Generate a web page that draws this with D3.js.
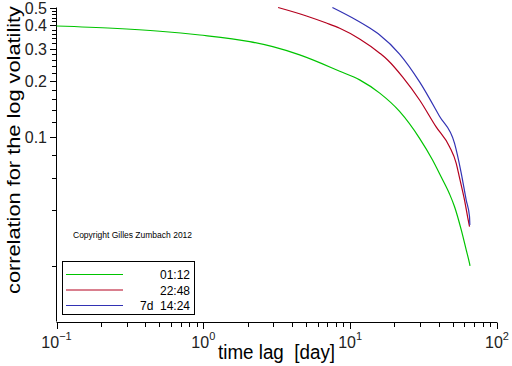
<!DOCTYPE html>
<html><head><meta charset="utf-8">
<script src="https://cdn.jsdelivr.net/npm/d3@7"></script>
<style>body{margin:0;background:#fff}svg{display:block}text{font-family:"Liberation Sans",Arial,sans-serif}</style>
</head><body><svg id="c" width="512" height="366"></svg>
<script>
// Data (time lag in days, correlation)
const greenLag  = [0.1, 0.242, 0.506, 0.947, 2.07, 2.97, 4.53, 8.49, 11.6, 15.9, 21.7, 29.7, 36.4, 41.7, 47.5, 51.4, 57.1, 61.7, 65.0, 65.5];
const greenCorr = [0.397, 0.386, 0.372, 0.355, 0.327, 0.307, 0.277, 0.226, 0.203, 0.172, 0.137, 0.098, 0.0748, 0.0605, 0.0490, 0.0418, 0.0313, 0.0244, 0.0206, 0.0200];
const redLag  = [3.23, 5.04, 6.89, 8.49, 11.6, 15.9, 18.0, 22.8, 29.7, 38.5, 47.5, 52.7, 55.6, 60.1, 63.3, 65.0];
const redCorr = [0.5, 0.450, 0.412, 0.386, 0.338, 0.283, 0.260, 0.210, 0.158, 0.113, 0.0883, 0.0720, 0.0598, 0.0454, 0.0363, 0.0326];
const blueLag  = [7.57, 11.0, 13.6, 15.9, 21.7, 29.7, 40.6, 51.4, 57.1, 61.7, 65.0, 65.3];
const blueCorr = [0.5, 0.428, 0.387, 0.355, 0.280, 0.198, 0.129, 0.092, 0.0634, 0.0454, 0.0369, 0.0333];
const seriesNames = ["01:12", "22:48", "7d  14:24"];
const seriesColors = ["#00c400", "#b4001e", "#3232b4"];
const xDecades = [-1, 0, 1, 2];
const yLabels = [0.1, 0.2, 0.3, 0.4, 0.5];

const svg = d3.select("#c");
const x = d3.scaleLog().domain([0.1, 100]).range([56.5, 497]);
const y = d3.scaleLog().domain([0.01, 0.5]).range([321.5, 7.5]);

// axes lines
svg.append("line").attr("x1", 56.5).attr("x2", 56.5).attr("y1", y(0.5)).attr("y2", y(0.01)).attr("stroke", "#000");
svg.append("line").attr("x1", x(0.1)).attr("x2", x(100)).attr("y1", 322.5).attr("y2", 322.5).attr("stroke", "#000");

// x ticks
const xTicks = [];
xDecades.forEach(d => { for (let k = 1; k <= 9; k++) { const v = k * Math.pow(10, d); if (v <= 100.0001) xTicks.push({v, major: k === 1}); } });
svg.selectAll(".xt").data(xTicks).enter().append("line")
  .attr("x1", d => Math.round(x(d.v)) + 0.5).attr("x2", d => Math.round(x(d.v)) + 0.5)
  .attr("y1", 322.5).attr("y2", d => d.major ? 329 : 327).attr("stroke", "#000");
xDecades.forEach(d => {
  const t = svg.append("text").attr("x", x(Math.pow(10, d))).attr("y", 348)
    .attr("text-anchor", "middle").attr("font-size", 16).attr("fill", "#222");
  t.append("tspan").text("10");
  t.append("tspan").attr("dy", -8).attr("font-size", 11).text(d < 0 ? "\u2212" + (-d) : String(d));
});

// y ticks
const yTicks = [];
for (let k = 1; k <= 25; k++) { const v = +(k * 0.02).toFixed(2); yTicks.push({v, major: yLabels.includes(v)}); }
svg.selectAll(".yt").data(yTicks).enter().append("line")
  .attr("y1", d => Math.round(y(d.v)) + 0.5).attr("y2", d => Math.round(y(d.v)) + 0.5)
  .attr("x1", 56.5).attr("x2", d => d.major ? 50 : 52).attr("stroke", "#000");
svg.selectAll(".yl").data(yLabels).enter().append("text")
  .attr("x", 47).attr("y", d => y(d) + 6).attr("text-anchor", "end")
  .attr("font-size", 16).attr("fill", "#222").text(d => d.toFixed(1));

// axis titles
svg.append("text").attr("x", 276.5).attr("y", 359).attr("text-anchor", "middle")
  .attr("font-size", 19.5).attr("fill", "#000").attr("xml:space", "preserve")
  .attr("textLength", 117).attr("lengthAdjust", "spacingAndGlyphs").text("time lag  [day]");
svg.append("text").attr("transform", "translate(20,150) rotate(-90)").attr("text-anchor", "middle")
  .attr("font-size", 18.5).attr("fill", "#000")
  .attr("textLength", 288).attr("lengthAdjust", "spacingAndGlyphs").text("correlation for the log volatility");

// curves
const line = d3.line().x(d => x(d[0])).y(d => y(d[1])).curve(d3.curveMonotoneX);
const series = [
  d3.zip(greenLag, greenCorr),
  d3.zip(redLag, redCorr),
  d3.zip(blueLag, blueCorr)
];
series.forEach((s, i) => {
  svg.append("path").attr("d", line(s)).attr("fill", "none")
    .attr("stroke", seriesColors[i]).attr("stroke-width", 1.2);
});

// copyright
svg.append("text").attr("x", 73).attr("y", 238).attr("font-size", 8.5).attr("fill", "#000")
  .text("Copyright Gilles Zumbach 2012");

// legend
svg.append("rect").attr("x", 62.5).attr("y", 261.5).attr("width", 132).attr("height", 53)
  .attr("fill", "#fff").attr("stroke", "#000");
const ly = [274.5, 290, 305.5];
seriesNames.forEach((n, i) => {
  svg.append("line").attr("x1", 66).attr("x2", 123).attr("y1", ly[i]).attr("y2", ly[i])
    .attr("stroke", seriesColors[i]).attr("stroke-width", 1);
  svg.append("text").attr("x", 190).attr("y", ly[i] + 4.5).attr("text-anchor", "end")
    .attr("font-size", 12).attr("fill", "#000").attr("xml:space", "preserve").text(n);
});
</script></body></html>
